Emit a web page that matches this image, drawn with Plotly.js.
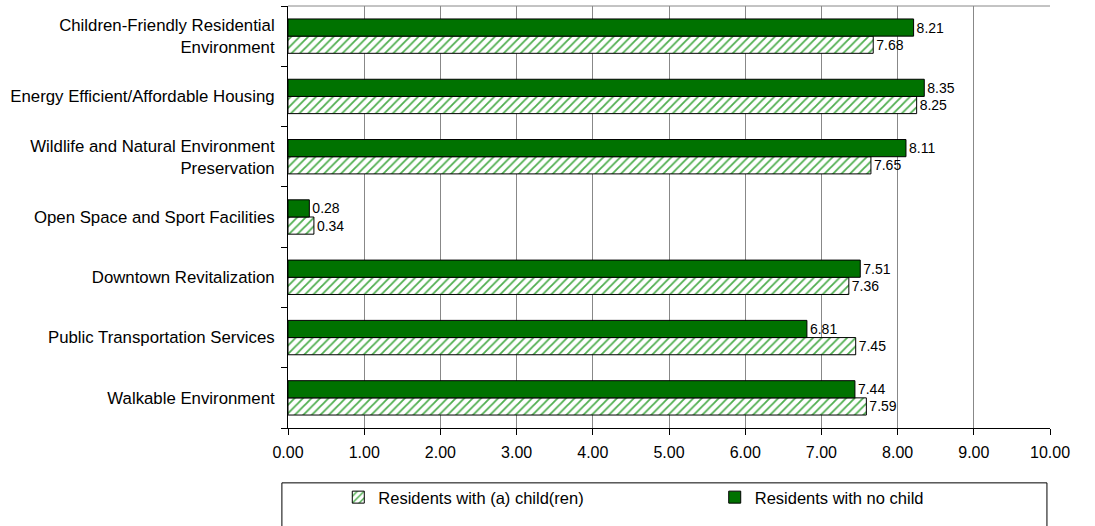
<!DOCTYPE html>
<html>
<head>
<meta charset="utf-8">
<script src="https://cdn.plot.ly/plotly-3.0.1.min.js"></script>
<style>
  html, body { margin: 0; padding: 0; background: #ffffff; }
  #chart { width: 1095px; height: 526px; }
</style>
</head>
<body>
<div id="chart"></div>
<script>
// Priority ratings by household type (bottom to top on the chart)
const categories = [
  'Walkable Environment',
  'Public Transportation Services',
  'Downtown Revitalization',
  'Open Space and Sport Facilities',
  'Wildlife and Natural Environment<br>Preservation',
  'Energy Efficient/Affordable Housing',
  'Children-Friendly Residential<br>Environment'
];
const withChildren = [7.59, 7.45, 7.36, 0.34, 7.65, 8.25, 7.68];
const noChild = [7.44, 6.81, 7.51, 0.28, 8.11, 8.35, 8.21];
const xTickValues = [0, 1, 2, 3, 4, 5, 6, 7, 8, 9, 10];

const font = { family: 'Liberation Sans, Arial, sans-serif', color: '#000000' };

const traces = [
  {
    type: 'bar',
    orientation: 'h',
    name: 'Residents with (a) child(ren)',
    legend: 'legend',
    y: categories,
    x: withChildren,
    marker: {
      color: '#ffffff',
      line: { color: '#000000', width: 1 },
      pattern: { shape: '/', fgcolor: '#4fae4f', bgcolor: '#ffffff', size: 6, solidity: 0.3 }
    },
    texttemplate: '%{x:.2f}',
    textposition: 'outside',
    textfont: Object.assign({ size: 14 }, font),
    cliponaxis: false
  },
  {
    type: 'bar',
    orientation: 'h',
    name: 'Residents with no child',
    legend: 'legend2',
    y: categories,
    x: noChild,
    marker: {
      color: '#007200',
      line: { color: '#000000', width: 1 }
    },
    texttemplate: '%{x:.2f}',
    textposition: 'outside',
    textfont: Object.assign({ size: 14 }, font),
    cliponaxis: false
  }
];

const legendBase = {
  orientation: 'h',
  xanchor: 'left',
  y: -0.123,
  yanchor: 'top',
  itemwidth: 30,
  bgcolor: 'rgba(0,0,0,0)',
  font: Object.assign({ size: 16.5 }, font)
};

const layout = {
  width: 1095,
  height: 526,
  margin: { l: 288, r: 45, t: 6, b: 98, autoexpand: false },
  paper_bgcolor: '#ffffff',
  plot_bgcolor: '#ffffff',
  font: Object.assign({ size: 16 }, font),
  barmode: 'group',
  bargap: 0.43,
  bargroupgap: 0,
  showlegend: true,
  xaxis: {
    range: [0, 10],
    tickvals: xTickValues,
    ticktext: xTickValues.map(v => v.toFixed(2)),
    showgrid: true,
    gridcolor: '#888888',
    gridwidth: 1,
    zeroline: false,
    showline: true,
    linecolor: '#000000',
    linewidth: 1,
    ticks: 'outside',
    ticklen: 6,
    tickcolor: '#000000',
    ticklabelstandoff: 4,
    tickfont: Object.assign({ size: 16 }, font),
    fixedrange: true
  },
  yaxis: {
    type: 'category',
    showgrid: false,
    zeroline: false,
    showline: true,
    linecolor: '#000000',
    linewidth: 1,
    ticks: 'outside',
    tickson: 'boundaries',
    ticklen: 6,
    tickcolor: '#000000',
    ticklabelstandoff: 9,
    tickfont: Object.assign({ size: 16.8 }, font),
    fixedrange: true
  },
  legend: Object.assign({ x: 0.066 }, legendBase),
  legend2: Object.assign({ x: 0.560 }, legendBase),
  shapes: [
    {
      // top edge of the plotting area
      type: 'line',
      xref: 'paper', yref: 'paper',
      x0: 0, x1: 1, y0: 1, y1: 1,
      line: { color: '#888888', width: 1 }
    },
    {
      // frame around the legend
      type: 'rect',
      xref: 'paper', yref: 'paper',
      x0: -0.008, x1: 0.996,
      y0: -0.13, y1: -0.3,
      line: { color: '#000000', width: 1 },
      fillcolor: 'rgba(0,0,0,0)',
      layer: 'below'
    }
  ]
};

Plotly.newPlot('chart', traces, layout, { displayModeBar: false, staticPlot: true });
</script>
</body>
</html>
